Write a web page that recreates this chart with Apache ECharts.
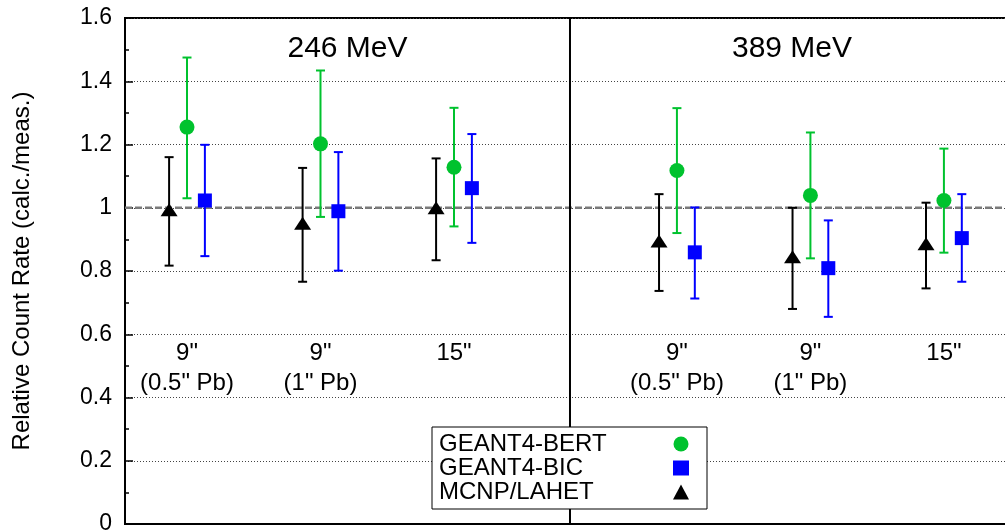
<!DOCTYPE html>
<html>
<head>
<meta charset="utf-8">
<script src="https://cdn.jsdelivr.net/npm/echarts@6/dist/echarts.min.js"></script>
<style>
  html, body { margin: 0; padding: 0; background: #fff; }
  #chart { width: 1005px; height: 532px; }
</style>
</head>
<body>
<div id="chart"></div>
<script>
// Detector configurations: position of each group on the x scale, and its two-line label
const GROUP_X = [1, 2, 3, 4.67, 5.67, 6.67];
const GROUP_LABEL = ['9"', '9"', '15"', '9"', '9"', '15"'];
const GROUP_SUBLABEL = ['(0.5" Pb)', '(1" Pb)', '', '(0.5" Pb)', '(1" Pb)', ''];

// Beam energies, one panel each; the panels are split at SPLIT_X
const ENERGY_LABELS = ['246 MeV', '389 MeV'];
const SPLIT_X = 3.869;

// Ratio calc./meas. with lower / upper error-bar ends
const BERT    = [1.255, 1.202, 1.128, 1.118, 1.039, 1.023];
const BERT_LO = [1.030, 0.971, 0.941, 0.920, 0.840, 0.858];
const BERT_HI = [1.475, 1.434, 1.316, 1.315, 1.238, 1.187];

const BIC     = [1.023, 0.989, 1.062, 0.859, 0.809, 0.904];
const BIC_LO  = [0.847, 0.801, 0.889, 0.713, 0.655, 0.766];
const BIC_HI  = [1.199, 1.176, 1.233, 1.001, 0.960, 1.043];

const LAHET    = [0.994, 0.951, 1.000, 0.895, 0.845, 0.886];
const LAHET_LO = [0.817, 0.766, 0.834, 0.737, 0.680, 0.745];
const LAHET_HI = [1.160, 1.126, 1.156, 1.043, 1.000, 1.016];

const SERIES_NAMES = ['GEANT4-BERT', 'GEANT4-BIC', 'MCNP/LAHET'];

// Axis ranges
const X_MIN = 0.5356, X_MAX = 7.195;
const Y_MIN = 0, Y_MAX = 1.6, Y_STEP = 0.2;
const REF_Y = 1;

// Vertical positions (in data units) of the annotation texts
const HEADING_Y = 1.504;
const LABEL_Y = 0.540, SUBLABEL_Y = 0.444;

const FONT = '"Liberation Sans", Arial, Helvetica, sans-serif';
const GREEN = '#00c22e', BLUE = '#0000ff', BLACK = '#000000';

// side-by-side offsets of the three models inside a group
const OFFSET = { bert: 0, bic: 0.134, lahet: -0.134 };

function points(vals, off) {
  return vals.map((v, i) => [GROUP_X[i] + off, v]);
}
function bars(lo, hi, off) {
  return lo.map((l, i) => [GROUP_X[i] + off, l, hi[i]]);
}

function errorBarSeries(lo, hi, off, color) {
  return {
    type: 'custom',
    silent: true,
    z: 3,
    encode: { x: 0, y: [1, 2] },
    data: bars(lo, hi, off),
    renderItem(params, api) {
      const x = api.value(0);
      const top = api.coord([x, api.value(2)]);
      const bot = api.coord([x, api.value(1)]);
      const cap = 4.5;
      const style = { stroke: color, lineWidth: 2 };
      return {
        type: 'group',
        children: [
          { type: 'line', shape: { x1: top[0], y1: top[1], x2: bot[0], y2: bot[1] }, style },
          { type: 'line', shape: { x1: top[0] - cap, y1: top[1], x2: top[0] + cap, y2: top[1] }, style },
          { type: 'line', shape: { x1: bot[0] - cap, y1: bot[1], x2: bot[0] + cap, y2: bot[1] }, style }
        ]
      };
    }
  };
}

// straight guide line between two data points, drawn through the axes
function guideLine(p0, p1, style, z) {
  return {
    type: 'custom',
    silent: true,
    z: z,
    data: [[p0[0], p0[1], p1[0], p1[1]]],
    renderItem(params, api) {
      const a = api.coord([api.value(0), api.value(1)]);
      const b = api.coord([api.value(2), api.value(3)]);
      return {
        type: 'line',
        shape: { x1: a[0], y1: a[1], x2: b[0], y2: b[1] },
        style: Object.assign({ fill: null }, style)
      };
    }
  };
}

function textSeries(items, size) {
  return {
    type: 'custom',
    silent: true,
    z: 5,
    data: items,
    renderItem(params, api) {
      const item = items[params.dataIndex];
      const p = api.coord([item[0], item[1]]);
      return {
        type: 'text',
        x: p[0], y: p[1],
        style: {
          text: item[2], fill: '#000',
          font: size + 'px ' + FONT,
          align: 'center', verticalAlign: 'middle'
        }
      };
    }
  };
}

const headingItems = ENERGY_LABELS.map((t, i) =>
  [i === 0 ? (X_MIN + SPLIT_X) / 2 : (SPLIT_X + X_MAX) / 2, HEADING_Y, t]);
const labelItems = GROUP_LABEL.map((t, i) => [GROUP_X[i], LABEL_Y, t])
  .concat(GROUP_SUBLABEL.map((t, i) => [GROUP_X[i], SUBLABEL_Y, t]).filter(d => d[2]));

const chart = echarts.init(document.getElementById('chart'));
chart.setOption({
  animation: false,
  backgroundColor: '#fff',
  textStyle: { fontFamily: FONT },
  grid: {
    left: 125, right: -9, top: 18, bottom: 8,
    outerBoundsMode: 'none', containLabel: false,
    show: true, borderColor: '#000', borderWidth: 2
  },
  xAxis: {
    type: 'value', min: X_MIN, max: X_MAX,
    axisLine: { show: true, lineStyle: { color: '#000', width: 2 } },
    axisTick: { show: false }, axisLabel: { show: false },
    splitLine: { show: false }
  },
  yAxis: {
    type: 'value', min: Y_MIN, max: Y_MAX, interval: Y_STEP,
    name: 'Relative Count Rate (calc./meas.)',
    nameLocation: 'middle', nameGap: 91,
    nameTextStyle: { fontSize: 24, color: '#000', fontFamily: FONT },
    axisLine: { show: true, lineStyle: { color: '#000', width: 2 } },
    axisTick: { show: true, inside: true, length: 8, lineStyle: { color: '#000', width: 1.5 } },
    minorTick: { show: true, splitNumber: 2, length: 4, lineStyle: { color: '#000', width: 1.5 } },
    axisLabel: { fontSize: 23, color: '#000', margin: 13, fontFamily: FONT },
    splitLine: { show: true, lineStyle: { color: '#444', width: 1, type: [1, 2] } }
  },
  legend: {
    orient: 'vertical', left: 432, top: 427,
    align: 'right', selectedMode: false,
    data: SERIES_NAMES,
    itemWidth: 16, itemHeight: 15, itemGap: 0,
    padding: [5, 18, 5, 7],
    borderColor: '#000', borderWidth: 1, backgroundColor: '#fff',
    formatter: name => '{t|' + name + '}',
    textStyle: {
      fontSize: 24, color: '#000', fontFamily: FONT,
      rich: { t: { width: 229, align: 'left', fontSize: 24, lineHeight: 26, fontFamily: FONT, color: '#000' } }
    }
  },
  series: [
    // reference line at ratio 1 and the divider between the two energies
    guideLine([X_MIN, REF_Y], [X_MAX, REF_Y], { stroke: '#7a7a7a', lineWidth: 2.5, lineDash: [7, 3] }, 2),
    guideLine([SPLIT_X, Y_MIN], [SPLIT_X, Y_MAX], { stroke: '#000', lineWidth: 2 }, 2),
    errorBarSeries(LAHET_LO, LAHET_HI, OFFSET.lahet, BLACK),
    errorBarSeries(BERT_LO, BERT_HI, OFFSET.bert, GREEN),
    errorBarSeries(BIC_LO, BIC_HI, OFFSET.bic, BLUE),
    {
      name: SERIES_NAMES[0], type: 'scatter', z: 4,
      symbol: 'circle', symbolSize: 15,
      itemStyle: { color: GREEN, opacity: 1 },
      data: points(BERT, OFFSET.bert)
    },
    {
      name: SERIES_NAMES[1], type: 'scatter', z: 4,
      symbol: 'rect', symbolSize: 14,
      itemStyle: { color: BLUE, opacity: 1 },
      data: points(BIC, OFFSET.bic)
    },
    {
      name: SERIES_NAMES[2], type: 'scatter', z: 4,
      symbol: 'triangle', symbolSize: [17, 13],
      itemStyle: { color: BLACK, opacity: 1 },
      data: points(LAHET, OFFSET.lahet)
    },
    textSeries(headingItems, 30),
    textSeries(labelItems, 24)
  ]
});
</script>
</body>
</html>
